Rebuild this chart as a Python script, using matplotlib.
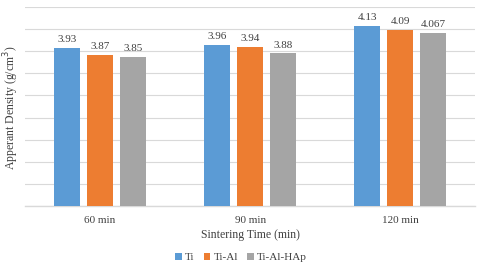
import numpy as np
import matplotlib.pyplot as plt

plt.rcParams['font.family'] = ['Liberation Serif', 'DejaVu Serif']

categories = ['60 min', '90 min', '120 min']
series = ['Ti', 'Ti-Al', 'Ti-Al-HAp']
ti = [3.93, 3.96, 4.13]
ti_al = [3.87, 3.94, 4.09]
ti_al_hap = [3.85, 3.88, 4.067]
labels = [['3.93', '3.96', '4.13'], ['3.87', '3.94', '4.09'], ['3.85', '3.88', '4.067']]
colors = ['#5B9BD5', '#ED7D31', '#A5A5A5']

fig = plt.figure(figsize=(4.8, 2.63), dpi=100)
ax = fig.add_axes([0.052, 0.217, 0.938, 0.756])

x = np.arange(len(categories))
w = 0.173
step = 0.22
for i, (vals, name) in enumerate(zip([ti, ti_al, ti_al_hap], series)):
    pos = x + (i - 1) * step
    ax.bar(pos, vals, w, color=colors[i], label=name, zorder=3)
    for p, v, t in zip(pos, vals, labels[i]):
        ax.text(p, v + 0.035, t, ha='center', va='bottom', fontsize=8, color='#404040')

ax.set_ylim(2.5, 4.3)
ax.set_yticks(np.arange(2.5, 4.31, 0.2))
ax.set_yticklabels([])
ax.tick_params(axis='y', length=0)
ax.tick_params(axis='x', length=0, labelsize=8, colors='#404040', pad=7)
ax.set_xlim(-0.5, 2.5)
ax.set_xticks(x)
ax.set_xticklabels(categories)
ax.grid(axis='y', color='#D9D9D9', linewidth=0.8, zorder=0)
for s in ['top', 'right', 'left']:
    ax.spines[s].set_visible(False)
ax.spines['bottom'].set_color('#D9D9D9')
ax.spines['bottom'].set_linewidth(1.0)

ax.set_xlabel('Sintering Time (min)', fontsize=8.5, color='#404040', labelpad=3)
fig.text(0.024, 0.59, 'Apperant Density (g/cm$^3$)', rotation=90, ha='center', va='center',
         fontsize=8.5, color='#404040')

ax.legend(loc='upper center', bbox_to_anchor=(0.48, -0.185), ncol=3, frameon=False,
          fontsize=8, handlelength=0.6, handleheight=0.7, handletextpad=0.3,
          columnspacing=0.8, labelcolor='#404040')

fig.savefig('out.png', dpi=100)
